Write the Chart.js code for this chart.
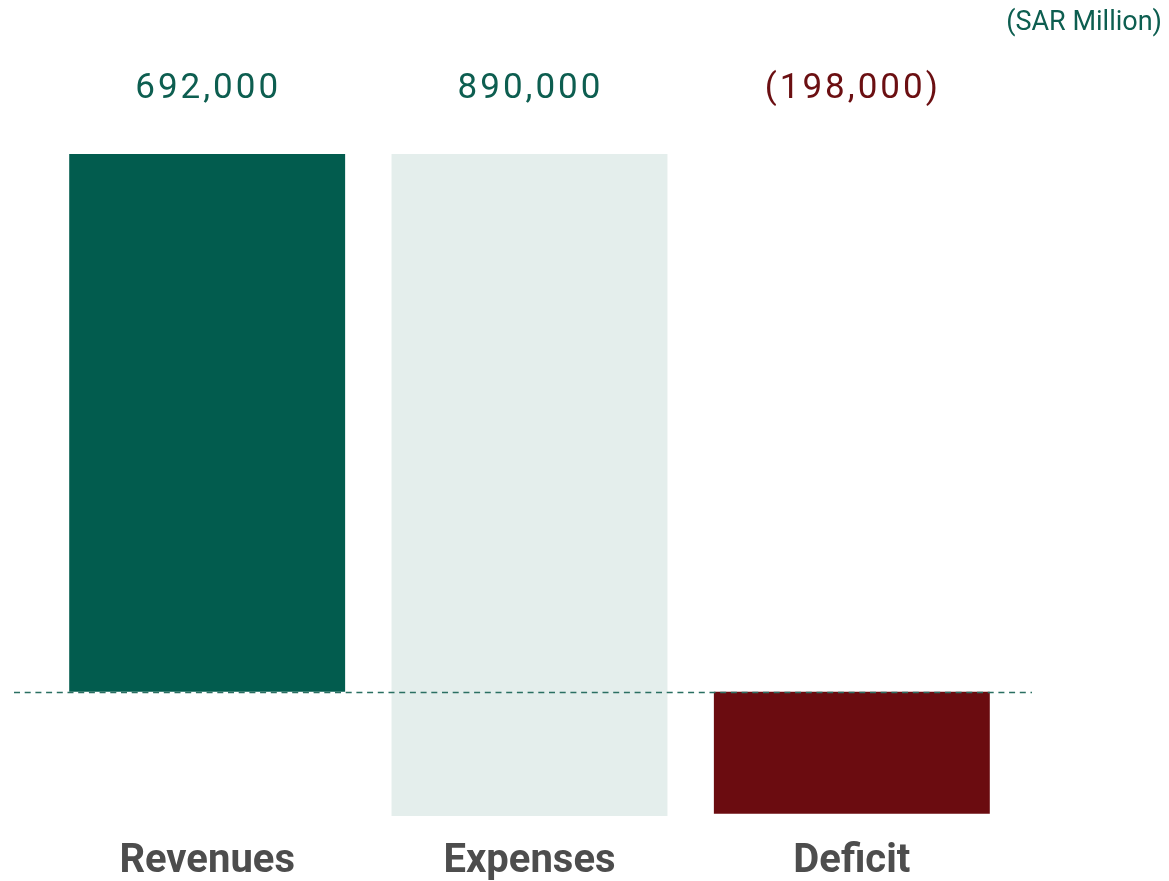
<!DOCTYPE html>
<html>
<head>
<meta charset="utf-8">
<script src="https://cdn.jsdelivr.net/npm/chart.js@4.4.1/dist/chart.umd.min.js"></script>
<style>
	html, body { margin: 0; padding: 0; background: #fff; }
	#wrap { width: 1169px; height: 881px; position: relative; }
</style>
</head>
<body>
<div id="wrap"><canvas id="mycanvas"></canvas></div>
<script>
// data (SAR million)
var categories = ['Revenues', 'Expenses', 'Deficit'];
var barStart = [0, -160000, -157000];   // bottom of each floating bar as drawn
var barEnd = [692000, 692000, 0];       // top of each floating bar as drawn
var valueLabels = ['692,000', '890,000', '(198,000)'];
var barColors = ['#025c4e', '#e4eeec', '#6b0c10'];
var labelColors = ['#0d5e50', '#0d5e50', '#6b0f12'];
var unitLabel = '(SAR Million)';

var ranges = [];
for (var i in categories) {
	ranges.push([barStart[i], barEnd[i]]);
}

// value labels, zero line and unit text
var extras = {
	id: 'extras',
	afterDatasetsDraw: function(chart) {
		var ctx = chart.ctx;
		var xs = chart.scales.x;
		var ys = chart.scales.y;
		var y0 = Math.round(ys.getPixelForValue(0)) + 0.5;

		ctx.save();
		ctx.strokeStyle = '#2a6f62';
		ctx.lineWidth = 1.3;
		ctx.setLineDash([6, 4.7]);
		ctx.beginPath();
		ctx.moveTo(14, y0);
		ctx.lineTo(1032, y0);
		ctx.stroke();
		ctx.setLineDash([]);

		ctx.font = '400 35px Roboto';
		ctx.letterSpacing = '3px';
		ctx.textAlign = 'center';
		ctx.textBaseline = 'middle';
		for (var i in categories) {
			ctx.fillStyle = labelColors[i];
			ctx.fillText(valueLabels[i], xs.getPixelForValue(Number(i)) + 1, 89);
		}

		ctx.letterSpacing = '0px';
		ctx.font = '400 27px Roboto';
		ctx.fillStyle = '#0d5e50';
		ctx.textAlign = 'right';
		ctx.fillText(unitLabel, 1162, 23);
		ctx.restore();
	}
};

var ctx = document.getElementById('mycanvas');

var barGraph = new Chart(ctx, {
	type: 'bar',
	data: {
		labels: categories,
		datasets: [{
			data: ranges,
			backgroundColor: barColors,
			borderWidth: 0,
			barPercentage: 0.856,
			categoryPercentage: 1
		}]
	},
	options: {
		responsive: true,
		maintainAspectRatio: false,
		animation: false,
		layout: { padding: { top: 154, left: 46, right: 156, bottom: 0 } },
		plugins: {
			legend: { display: false },
			tooltip: { enabled: false }
		},
		scales: {
			x: {
				grid: { display: false },
				border: { display: false },
				ticks: {
					color: '#4d4d4d',
					font: { family: 'Roboto', size: 40, weight: 'bold' },
					padding: 14
				},
				afterFit: function(axis) { axis.height = 65; }
			},
			y: {
				display: false,
				min: -160000,
				max: 692000
			}
		}
	},
	plugins: [extras]
});
</script>
</body>
</html>
